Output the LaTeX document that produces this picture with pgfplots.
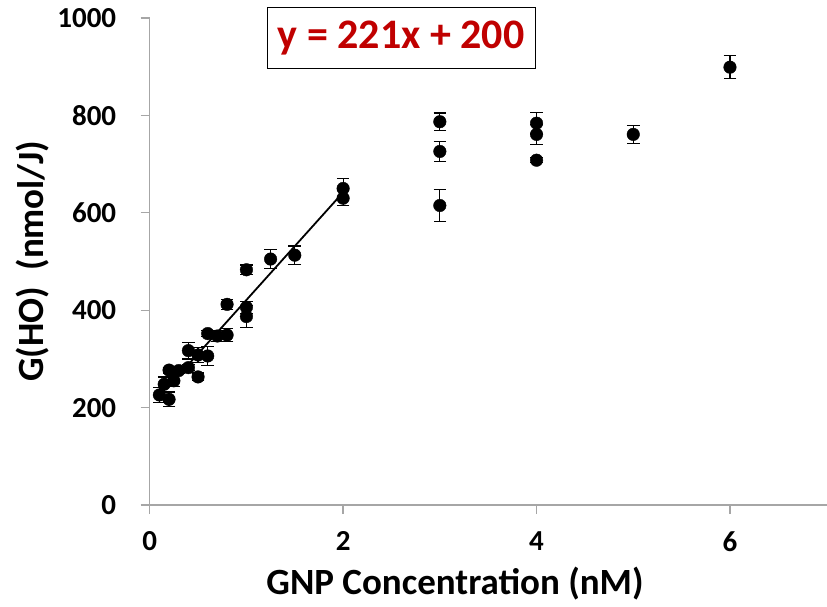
\documentclass[border=0pt]{standalone}
\usepackage{pgfplots}
\pgfplotsset{compat=1.18}
\usepackage{pgfplotstable}
\usepackage{fontspec}
\setmainfont{Carlito}
\definecolor{eqred}{HTML}{C00000}
\definecolor{axgray}{HTML}{A6A6A6}

\pgfplotstableread{
x y ey
0.1 226 15
0.2 217 15
0.15 248 15
0.25 255 12
0.2 277 6
0.3 276 6
0.4 282 6
0.5 263 8
0.4 317 17
0.5 308 16
0.6 306 19
0.6 352 6
0.7 347 12
0.8 349 14
0.8 412 10
1.0 406 12
1.0 387 22
1.0 483 10
1.25 505 19
1.5 513 19
2 650 20
2 630 15
3 787 18
3 726 20
3 615 33
4 784 22
4 761 20
4 708 5
5 761 18
6 899 24
}\datatable

\begin{document}
\begin{tikzpicture}
\useasboundingbox (-149.7pt,-101pt) rectangle (677.3pt,505pt);
\begin{axis}[
  at={(0,0)}, anchor=south west,
  scale only axis, width=677pt, height=487pt,
  xmin=0, xmax=7, ymin=0, ymax=1000,
  axis x line=bottom, axis y line=left,
  axis line style={-, axgray, line width=1.3pt},
  xtick={0,2,4,6}, ytick={0,200,400,600,800,1000},
  minor tick num=0,
  tick align=outside, major tick length=9pt,
  every tick/.style={axgray, line width=1.3pt},
  ticklabel style={font=\fontsize{29}{34}\selectfont\bfseries, text=black},
  yticklabel style={xshift=-21pt},
  xticklabel style={yshift=-14pt},
  /pgf/number format/assume math mode=true,
  /pgf/number format/1000 sep={},
  xlabel={GNP Concentration (nM)},
  ylabel={G(HO)\ \ (nmol/J)},
  label style={font=\fontsize{37}{42}\selectfont\bfseries},
  xlabel style={at={(axis description cs:0.451,0)}, anchor=center, yshift=-79pt},
  ylabel style={at={(axis description cs:-0.173,0.5)}, anchor=center},
  clip=false,
]
\addplot[only marks, mark=*, mark size=6.3pt, black,
  error bars/.cd, y dir=both, y explicit,
  error bar style={black, line width=1.2pt},
  error mark options={rotate=90, mark size=6.3pt, black, line width=1.2pt}]
  table[x=x, y=y, y error=ey] {\datatable};
\addplot[black, line width=1.8pt, no marks] coordinates {(0.25,255.25) (2,642)};
\node[draw=black, line width=1.3pt, fill=white, minimum width=268pt, minimum height=61pt,
  inner sep=0pt, text=eqred, font=\fontsize{42}{48}\selectfont\bfseries]
  at (axis cs:2.60,959) {y = 221x + 200};
\end{axis}
\end{tikzpicture}
\end{document}
